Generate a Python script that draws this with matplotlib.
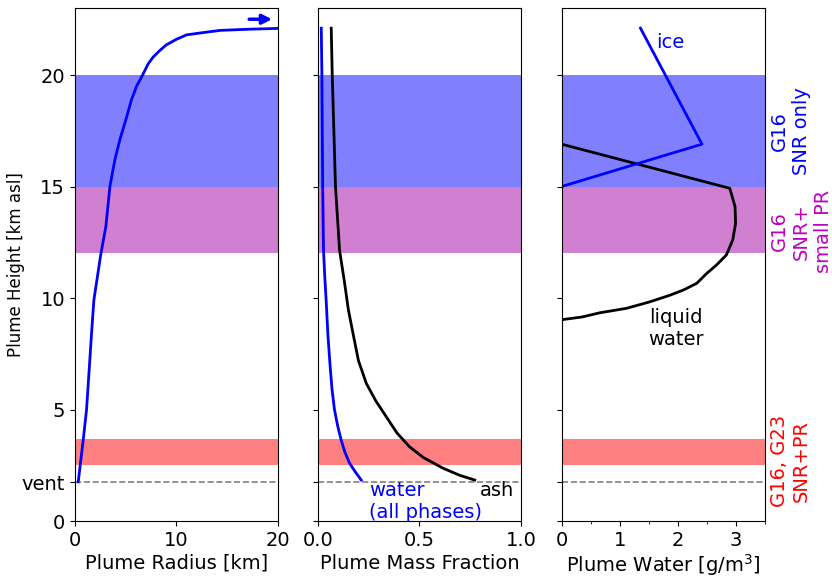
import numpy as np
import matplotlib
matplotlib.use("Agg")
import matplotlib.pyplot as plt
from matplotlib.ticker import MultipleLocator
import matplotlib.transforms as mtransforms

# plume radius profile [km] vs height [km asl]
radius_h = [1.76, 3.63, 5.0, 8.4, 9.9, 11.9, 13.2, 15.0, 16.2, 17.1, 18.1, 18.9, 19.5, 20.0,
            20.5, 20.8, 21.1, 21.35, 21.6, 21.8, 21.9, 22.0, 22.05, 22.09]
radius_km = [0.33, 0.82, 1.15, 1.64, 1.87, 2.53, 3.05, 3.45, 3.94, 4.43, 5.09, 5.58, 6.08, 6.67,
             7.22, 7.7, 8.37, 9.0, 10.0, 11.0, 12.6, 14.3, 16.9, 20.0]

# mass fractions
water_h = [1.84, 2.2, 2.6, 3.1, 3.63, 4.3, 5.0, 5.9, 6.9, 8.3, 9.9, 11.0, 12.15, 15.0, 20.0, 22.1]
water_frac = [0.214, 0.185, 0.156, 0.133, 0.115, 0.097, 0.082, 0.07, 0.061, 0.05, 0.041, 0.034,
              0.028, 0.024, 0.02, 0.017]
ash_h = [1.84, 2.05, 2.37, 2.85, 3.33, 3.95, 4.68, 5.4, 6.17, 7.2, 8.43, 9.5, 10.67, 12.15,
         15.0, 20.0, 22.1]
ash_frac = [0.773, 0.70, 0.617, 0.52, 0.452, 0.39, 0.337, 0.285, 0.239, 0.20, 0.173, 0.15,
            0.132, 0.107, 0.087, 0.071, 0.066]

# plume water content [g/m3]
liquid_h = [1.75, 9.0, 9.04, 9.15, 9.34, 9.54, 9.83, 10.13, 10.36, 10.66, 11.1, 11.48, 11.93,
            12.6, 13.35, 14.1, 14.92, 16.9, 22.1]
liquid_gm3 = [0.0, 0.0, 0.03, 0.35, 0.66, 1.12, 1.52, 1.87, 2.10, 2.33, 2.5, 2.67, 2.84,
              2.95, 3.0, 2.99, 2.9, 0.0, 0.0]
ice_h = [1.75, 15.0, 16.9, 22.1]
ice_gm3 = [0.0, 0.0, 2.42, 1.36]

vent = 1.75
bands = [(15, 20, '#8080ff'), (12, 15, '#d17fd1'), (2.5, 3.7, '#ff8080')]

plt.rcParams['font.size'] = 14

fig = plt.figure(figsize=(8.32, 5.79), dpi=100)
bottom, height = 0.100, 0.886
ax1 = fig.add_axes([0.090, bottom, 0.244, height])
ax2 = fig.add_axes([0.382, bottom, 0.244, height], sharey=ax1)
ax3 = fig.add_axes([0.675, bottom, 0.244, height], sharey=ax1)

for ax in (ax1, ax2, ax3):
    for lo, hi, c in bands:
        ax.axhspan(lo, hi, color=c, lw=0, zorder=0)
    ax.axhline(vent, color='gray', ls='--', lw=1.2, zorder=1)

ax1.plot(radius_km, radius_h, color='blue', lw=2)
ax1.annotate('', xy=(19.7, 22.5), xytext=(16.9, 22.5),
             arrowprops=dict(arrowstyle='-|>', color='blue', lw=2.5, mutation_scale=14))
ax1.set_xlim(0, 20)
ax1.set_ylim(0, 23)
ax1.set_yticks([0, vent, 5, 10, 15, 20])
ax1.set_yticklabels(['0', 'vent', '5', '10', '15', '20'])
ax1.set_xlabel('Plume Radius [km]', labelpad=3)
ax1.set_ylabel('Plume Height [km asl]', fontsize=12)
ax1.yaxis.set_label_coords(-0.245, 0.5)

ax2.plot(water_frac, water_h, color='blue', lw=2)
ax2.plot(ash_frac, ash_h, color='black', lw=2)
ax2.set_xlim(0, 1)
ax2.set_xticks([0, 0.5, 1.0])
ax2.set_xlabel('Plume Mass Fraction', labelpad=3)
ax2.text(0.252, 0.9, 'water\n(all phases)', color='blue', ha='left', va='center')
ax2.text(0.798, 1.39, 'ash', color='black', ha='left', va='center')
plt.setp(ax2.get_yticklabels(), visible=False)

ax3.plot(liquid_gm3, liquid_h, color='black', lw=2)
ax3.plot(ice_gm3, ice_h, color='blue', lw=2)
ax3.set_xlim(0, 3.5)
ax3.set_xticks([0, 1, 2, 3])
ax3.xaxis.set_minor_locator(MultipleLocator(0.5))
ax3.set_xlabel('Plume Water [g/m$^3$]', labelpad=2)
ax3.text(1.88, 21.45, 'ice', color='blue', ha='center', va='center')
ax3.text(1.97, 8.63, 'liquid\nwater', color='black', ha='center', va='center')
plt.setp(ax3.get_yticklabels(), visible=False)

trans = mtransforms.blended_transform_factory(ax3.transAxes, ax3.transData)
ax3.text(1.127, 17.5, 'G16\nSNR only', color='blue', rotation=90,
         ha='center', va='center', multialignment='center', transform=trans)
ax3.text(1.18, 13.0, 'G16\nSNR+\nsmall PR', color='#bf00bf', rotation=90,
         ha='center', va='center', multialignment='center', transform=trans)
ax3.text(1.127, 2.7, 'G16, G23\nSNR+PR', color='red', rotation=90,
         ha='center', va='center', multialignment='center', transform=trans)

fig.savefig('out.png', dpi=100)
